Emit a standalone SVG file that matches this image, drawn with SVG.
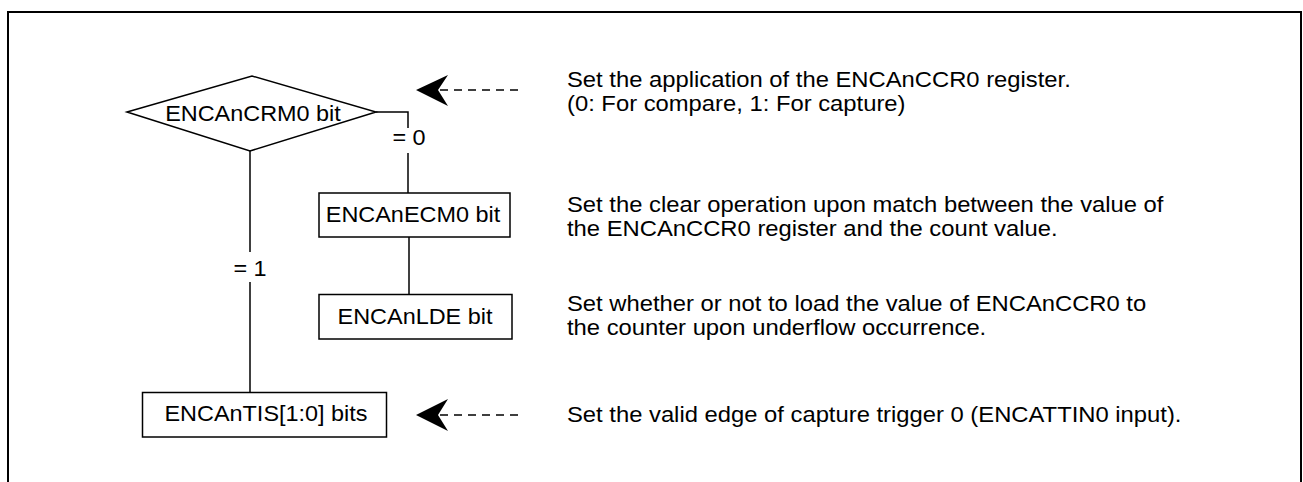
<svg xmlns="http://www.w3.org/2000/svg" width="1303" height="482" viewBox="0 0 1303 482">
<style>
text{font-family:"Liberation Sans",Arial,sans-serif;font-size:21.3px;fill:#000}
.c{text-anchor:middle}
.s{fill:#fff;stroke:#000;stroke-width:1.5}
.ln{fill:none;stroke:#000;stroke-width:1.5}
.d{fill:none;stroke:#000;stroke-width:1.3;stroke-dasharray:8 6}
.ah{fill:#000;stroke:none}
</style>
<rect width="1303" height="482" fill="#fff"/>
<path d="M8,482 V12 H1301 V482" fill="none" stroke="#000" stroke-width="2"/>
<g id="connectors">
<path class="ln" d="M376,112 H408 V128"/>
<path class="ln" d="M408,153 V193"/>
<text transform="translate(409,0) scale(1.1,1)" y="145" class="c">= 0</text>
<path class="ln" d="M250,151 V252"/>
<path class="ln" d="M250,282 V392"/>
<text transform="translate(250,0) scale(1.1,1)" y="276" class="c">= 1</text>
<path class="ln" d="M409,237 V294"/>
</g>
<g id="arrows">
<path class="d" d="M440,90 H524"/>
<path class="ah" d="M416,90 L448,75 L438,90 L448,106 Z"/>
<path class="d" d="M440,415 H524"/>
<path class="ah" d="M416,415 L448,399 L438,415 L448,431 Z"/>
</g>
<g id="node-crm0">
<path class="s" d="M127,112 L252,76 L376,112 L250,151 Z"/>
<text transform="translate(253,0) scale(1.1,1)" y="121" class="c">ENCAnCRM0 bit</text>
</g>
<g id="node-ecm0">
<rect class="s" x="319" y="193" width="191" height="44"/>
<text transform="translate(413,0) scale(1.1,1)" y="222" class="c">ENCAnECM0 bit</text>
</g>
<g id="node-lde">
<rect class="s" x="319" y="294.5" width="193" height="44.5"/>
<text transform="translate(415,0) scale(1.1,1)" y="324" class="c">ENCAnLDE bit</text>
</g>
<g id="node-tis">
<rect class="s" x="142.5" y="392.5" width="244" height="44.5"/>
<text transform="translate(266,0) scale(1.1,1)" y="421" class="c">ENCAnTIS[1:0] bits</text>
</g>
<g id="descriptions" transform="translate(567,0) scale(1.117,1)">
<text x="0" y="87">Set the application of the ENCAnCCR0 register.</text>
<text x="0" y="111">(0: For compare, 1: For capture)</text>
<text x="0" y="212">Set the clear operation upon match between the value of</text>
<text x="0" y="236">the ENCAnCCR0 register and the count value.</text>
<text x="0" y="311">Set whether or not to load the value of ENCAnCCR0 to</text>
<text x="0" y="335">the counter upon underflow occurrence.</text>
<text x="0" y="422">Set the valid edge of capture trigger 0 (ENCATTIN0 input).</text>
</g>
</svg>
